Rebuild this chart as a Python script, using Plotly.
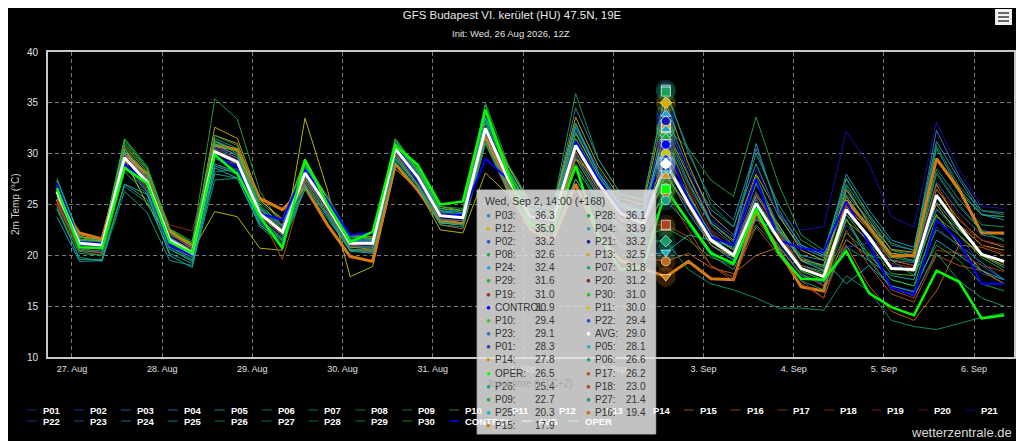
import plotly.graph_objects as go
import pandas as pd

# 6-hourly GFS ensemble, local time (UTC+2)
TIMES = pd.date_range("2026-08-26 20:00", periods=43, freq="6h")
INIT_LOCAL = pd.Timestamp("2026-08-26 14:00")

P01 = [26.0, 20.8, 20.6, 29.0, 26.5, 21.0, 19.8, 29.5, 28.4, 23.6, 22.0, 27.5, 24.3, 21.0, 20.8, 30.0, 27.2, 23.5, 23.4, 31.5, 27.0, 23.2, 23.0, 30.0, 26.5, 23.6, 22.8, 28.3, 24.5, 21.0, 19.6, 24.0, 20.8, 18.2, 17.4, 23.0, 20.5, 17.0, 16.5, 22.8, 20.8, 18.2, 17.6]
P02 = [27.0, 21.6, 21.3, 30.2, 27.8, 22.0, 20.8, 31.0, 29.8, 24.5, 22.8, 28.6, 25.3, 21.6, 21.5, 31.0, 28.2, 24.3, 24.0, 33.0, 28.3, 24.6, 24.2, 32.8, 28.5, 25.2, 24.6, 33.2, 28.0, 23.4, 21.8, 27.5, 23.0, 19.8, 19.0, 26.3, 23.5, 20.5, 20.2, 28.2, 25.0, 22.5, 22.0]
P03 = [26.8, 21.4, 21.1, 30.0, 27.6, 21.8, 20.5, 30.8, 29.5, 24.4, 22.6, 28.4, 25.0, 21.3, 21.4, 31.0, 28.0, 24.2, 24.1, 33.6, 28.8, 25.0, 24.6, 34.5, 29.5, 26.0, 25.5, 36.3, 30.0, 25.5, 23.5, 30.5, 24.5, 21.0, 20.0, 27.5, 24.0, 21.0, 20.5, 32.3, 27.8, 24.4, 24.2]
P04 = [27.3, 21.8, 21.5, 30.4, 28.0, 22.2, 20.6, 31.3, 30.3, 24.8, 23.0, 29.0, 25.6, 21.8, 21.6, 31.3, 28.4, 24.6, 24.2, 33.5, 28.8, 24.8, 24.5, 33.0, 28.0, 25.0, 24.2, 33.9, 28.5, 24.5, 22.8, 29.0, 23.8, 20.8, 19.8, 26.8, 23.0, 20.2, 20.0, 30.5, 26.5, 24.0, 23.8]
P05 = [25.5, 20.5, 20.3, 28.8, 26.2, 20.6, 19.4, 28.8, 28.0, 23.2, 21.5, 27.3, 24.0, 20.6, 20.4, 29.8, 26.9, 23.2, 23.0, 31.8, 26.8, 23.3, 22.8, 29.8, 26.2, 23.5, 22.6, 28.1, 24.2, 21.0, 19.5, 26.0, 22.4, 19.0, 18.4, 23.6, 19.5, 18.0, 17.6, 25.2, 22.6, 20.0, 18.8]
P06 = [24.8, 19.6, 19.6, 27.0, 25.5, 20.2, 19.2, 28.0, 27.6, 23.0, 21.4, 26.5, 23.6, 20.5, 20.6, 29.5, 27.0, 23.2, 23.0, 31.4, 26.5, 22.8, 22.5, 29.5, 25.8, 22.6, 22.0, 26.6, 23.5, 20.4, 19.0, 23.8, 21.0, 18.0, 17.4, 21.5, 20.0, 19.5, 18.0, 22.5, 21.0, 19.3, 17.6]
P07 = [27.6, 21.9, 21.4, 31.5, 28.8, 22.5, 21.0, 31.5, 30.5, 25.0, 22.9, 29.3, 25.5, 21.8, 21.8, 30.9, 28.2, 24.4, 24.0, 33.0, 28.0, 24.3, 24.0, 32.2, 27.8, 24.8, 24.0, 31.8, 27.0, 23.0, 21.0, 27.0, 22.8, 19.5, 18.8, 26.0, 23.5, 20.0, 19.5, 28.5, 25.5, 23.0, 22.8]
P08 = [27.0, 21.4, 21.0, 31.2, 28.5, 22.0, 21.2, 35.4, 33.4, 26.3, 22.8, 29.0, 25.2, 21.5, 21.3, 31.2, 28.5, 24.6, 24.4, 34.4, 28.5, 24.5, 24.1, 33.0, 28.2, 25.0, 24.3, 32.6, 30.5, 27.4, 25.8, 33.6, 27.0, 22.0, 20.5, 27.0, 23.8, 20.5, 20.0, 29.5, 26.2, 24.0, 23.8]
P09 = [25.0, 20.4, 20.0, 28.2, 26.0, 20.8, 19.6, 29.0, 28.2, 23.4, 21.6, 27.6, 24.2, 20.8, 20.8, 30.0, 27.0, 23.4, 23.2, 31.6, 27.0, 23.5, 23.0, 28.5, 25.5, 22.8, 21.8, 22.7, 21.5, 19.8, 19.0, 24.2, 21.5, 18.5, 17.5, 22.2, 20.2, 17.6, 17.0, 21.0, 19.5, 17.2, 16.5]
P10 = [26.5, 21.2, 20.9, 29.9, 27.5, 21.7, 20.5, 30.5, 29.6, 24.3, 22.5, 28.6, 25.0, 21.4, 21.4, 30.6, 27.8, 24.0, 23.8, 32.9, 27.8, 24.0, 23.6, 31.0, 27.3, 24.2, 23.4, 29.4, 25.2, 21.7, 20.2, 25.5, 22.0, 19.0, 18.2, 24.0, 21.2, 18.2, 18.0, 24.5, 22.5, 20.2, 19.2]
P11 = [26.2, 21.6, 21.4, 29.5, 25.0, 21.8, 20.4, 24.3, 23.8, 20.7, 20.5, 33.5, 26.4, 17.9, 18.9, 28.5, 26.5, 22.5, 22.2, 28.1, 26.0, 23.0, 23.0, 29.5, 27.5, 24.5, 23.6, 30.0, 26.0, 22.0, 20.5, 25.8, 23.0, 19.5, 18.5, 24.8, 22.5, 19.5, 19.0, 24.0, 21.0, 18.5, 17.2]
P12 = [26.0, 21.5, 21.2, 30.2, 28.0, 22.4, 21.0, 32.6, 31.5, 25.5, 23.4, 29.5, 25.5, 22.0, 21.6, 31.0, 28.5, 24.8, 24.4, 34.2, 28.8, 25.0, 24.6, 33.6, 28.8, 25.6, 25.0, 35.0, 29.0, 24.0, 22.0, 28.0, 24.0, 20.5, 19.5, 25.8, 22.8, 20.2, 19.8, 27.0, 23.0, 21.0, 20.5]
P13 = [26.6, 21.8, 21.6, 30.5, 27.4, 22.3, 21.2, 31.8, 31.0, 25.4, 23.6, 29.2, 25.6, 22.0, 21.8, 30.2, 28.0, 24.2, 24.0, 32.6, 28.2, 24.4, 24.2, 32.0, 28.0, 24.8, 24.3, 32.5, 27.8, 23.2, 21.5, 27.2, 22.5, 19.6, 19.0, 26.5, 23.2, 20.6, 20.3, 25.0, 22.0, 20.0, 19.0]
P14 = [25.8, 22.0, 21.7, 30.8, 28.2, 22.5, 21.0, 31.2, 30.2, 24.6, 22.4, 28.0, 24.6, 20.8, 20.6, 30.2, 27.4, 23.5, 23.2, 31.8, 27.0, 23.3, 23.0, 30.2, 26.5, 23.4, 22.6, 27.8, 24.8, 21.0, 19.8, 25.0, 22.2, 18.8, 17.8, 23.4, 21.5, 18.8, 18.4, 26.5, 23.5, 21.5, 20.8]
P15 = [25.5, 22.2, 21.6, 29.8, 28.0, 22.4, 20.8, 30.8, 30.4, 25.6, 24.5, 26.7, 23.0, 19.9, 19.4, 29.0, 26.4, 23.3, 23.1, 31.8, 26.5, 22.5, 21.5, 27.0, 22.0, 19.5, 18.7, 17.9, 19.4, 17.7, 17.6, 24.3, 20.5, 16.9, 16.5, 25.4, 22.8, 19.9, 20.0, 29.5, 26.5, 22.2, 22.2]
P16 = [25.0, 21.0, 20.6, 28.8, 26.8, 21.4, 20.0, 29.5, 29.0, 23.8, 22.0, 27.5, 24.4, 20.6, 20.4, 29.8, 27.0, 23.0, 22.6, 31.0, 26.2, 22.6, 22.0, 27.5, 24.0, 20.8, 19.8, 19.4, 20.2, 18.8, 18.2, 20.0, 20.8, 18.2, 17.0, 21.0, 17.0, 14.5, 13.6, 16.5, 21.0, 20.8, 20.0]
P17 = [25.2, 20.5, 20.2, 29.2, 26.6, 21.0, 19.8, 30.0, 29.2, 24.0, 19.6, 27.2, 24.0, 20.5, 20.3, 30.0, 27.4, 23.5, 23.4, 32.2, 27.0, 23.0, 22.5, 29.5, 26.0, 23.0, 22.2, 26.2, 22.5, 19.0, 17.8, 22.8, 20.0, 17.2, 15.8, 22.5, 19.0, 16.2, 15.4, 20.0, 19.0, 18.5, 17.2]
P18 = [25.3, 20.8, 20.2, 28.6, 26.9, 21.5, 20.4, 30.2, 29.6, 24.2, 22.6, 27.8, 24.6, 21.0, 20.8, 30.4, 27.6, 23.8, 23.6, 32.6, 27.2, 23.5, 23.2, 30.2, 26.8, 23.6, 23.0, 23.0, 21.8, 19.0, 17.5, 23.6, 20.5, 17.5, 15.8, 21.6, 19.8, 16.6, 15.8, 20.5, 20.2, 19.0, 18.4]
P19 = [25.0, 20.6, 20.4, 29.3, 27.8, 23.0, 22.4, 30.6, 30.0, 24.2, 22.8, 27.8, 24.8, 21.1, 21.0, 30.6, 27.8, 24.0, 23.8, 32.8, 27.8, 24.2, 23.8, 31.5, 27.6, 24.5, 23.8, 31.0, 26.5, 22.5, 21.0, 26.0, 22.0, 18.8, 18.0, 24.5, 22.0, 19.2, 18.8, 26.0, 23.0, 21.5, 21.0]
P20 = [25.5, 21.0, 20.8, 29.8, 27.4, 22.0, 20.8, 30.4, 29.4, 24.5, 23.0, 28.3, 25.0, 21.3, 21.2, 30.8, 27.9, 24.0, 23.8, 32.4, 27.6, 24.0, 23.6, 31.2, 27.5, 24.3, 23.8, 31.2, 26.8, 22.4, 20.5, 26.3, 22.2, 19.0, 18.0, 25.0, 22.5, 19.6, 19.0, 26.8, 23.8, 21.0, 20.2]
P21 = [26.6, 21.3, 21.0, 29.8, 27.4, 21.8, 20.6, 30.6, 29.5, 24.4, 22.6, 28.4, 25.2, 21.4, 21.4, 30.8, 28.0, 24.2, 24.0, 32.8, 28.2, 24.6, 24.2, 32.4, 28.0, 25.0, 24.5, 33.2, 28.6, 23.8, 22.0, 28.5, 24.0, 22.5, 22.8, 32.2, 29.0, 23.8, 22.8, 33.1, 28.4, 24.8, 24.6]
P22 = [26.4, 21.0, 20.8, 29.5, 27.0, 21.3, 20.0, 30.0, 29.0, 23.9, 22.2, 28.2, 24.8, 21.1, 21.0, 30.4, 27.5, 23.8, 23.6, 32.2, 27.3, 23.8, 23.4, 30.8, 27.2, 24.2, 23.3, 29.4, 25.4, 21.8, 20.2, 25.6, 21.4, 18.0, 17.2, 20.8, 21.2, 19.0, 18.5, 24.6, 22.0, 19.0, 17.6]
P23 = [26.0, 20.6, 20.4, 29.2, 26.3, 20.8, 19.8, 29.0, 28.0, 23.4, 21.8, 27.8, 24.2, 20.9, 20.8, 30.2, 27.3, 23.6, 23.4, 32.0, 27.3, 23.6, 23.2, 30.6, 26.8, 24.0, 23.2, 29.1, 25.8, 22.2, 20.6, 26.2, 22.6, 19.4, 18.6, 24.0, 22.0, 19.5, 19.3, 27.2, 24.2, 22.0, 21.6]
P24 = [26.8, 21.4, 21.0, 30.2, 27.6, 21.8, 20.2, 30.9, 29.8, 24.6, 22.9, 28.8, 25.4, 21.5, 21.5, 31.0, 28.3, 24.4, 24.2, 33.4, 28.4, 24.6, 24.2, 32.6, 28.2, 25.0, 24.4, 32.4, 27.2, 23.2, 21.3, 31.0, 24.2, 21.0, 20.0, 28.0, 24.5, 21.5, 20.8, 31.2, 27.5, 24.0, 23.5]
P25 = [23.8, 19.4, 19.5, 27.0, 26.0, 20.0, 18.8, 28.6, 27.6, 23.0, 21.2, 27.0, 23.8, 20.4, 20.2, 29.6, 26.8, 23.2, 23.0, 31.2, 26.4, 22.6, 22.0, 27.5, 24.0, 21.0, 20.0, 20.3, 22.0, 21.5, 20.8, 23.5, 22.5, 20.0, 19.5, 17.2, 19.0, 17.0, 16.4, 21.5, 20.0, 18.5, 17.6]
P26 = [24.5, 19.8, 19.4, 26.3, 24.2, 19.5, 19.0, 27.4, 27.6, 22.8, 21.0, 26.5, 24.0, 20.5, 20.4, 29.2, 26.6, 23.0, 22.8, 31.0, 26.5, 23.0, 22.6, 29.0, 25.5, 22.6, 21.8, 25.4, 23.0, 20.0, 18.6, 23.0, 20.6, 17.5, 16.6, 20.8, 19.5, 16.8, 16.0, 20.2, 17.5, 15.8, 15.0]
P27 = [24.6, 20.2, 20.0, 26.8, 25.2, 20.6, 19.5, 28.2, 28.5, 23.6, 21.6, 26.8, 24.0, 20.6, 20.5, 29.4, 26.8, 23.3, 23.0, 31.2, 26.8, 23.2, 22.8, 28.8, 25.0, 22.4, 21.4, 21.4, 18.6, 17.2, 16.6, 15.8, 14.8, 14.8, 14.6, 18.0, 16.5, 13.6, 13.0, 12.7, 13.3, 13.9, 14.3]
P28 = [27.2, 21.6, 21.2, 31.0, 28.4, 22.6, 21.4, 31.8, 30.8, 25.2, 23.4, 29.2, 25.8, 21.9, 21.8, 31.5, 28.6, 24.8, 24.6, 35.0, 29.0, 25.2, 24.8, 35.9, 29.5, 26.0, 25.4, 36.1, 30.4, 25.0, 22.8, 30.0, 25.0, 21.5, 20.2, 27.6, 24.0, 21.2, 20.5, 30.8, 26.8, 24.4, 24.0]
P29 = [26.9, 21.5, 21.1, 30.6, 28.0, 22.2, 20.9, 31.2, 30.0, 24.8, 22.6, 28.8, 25.2, 21.6, 21.6, 30.9, 28.1, 24.3, 24.0, 33.2, 28.2, 24.5, 24.0, 32.0, 27.8, 24.8, 24.1, 31.6, 26.2, 22.0, 20.6, 27.8, 22.6, 19.8, 18.8, 25.8, 22.6, 19.8, 19.4, 28.0, 24.8, 22.4, 21.4]
P30 = [27.4, 21.8, 21.3, 31.4, 28.6, 22.6, 21.2, 31.0, 30.2, 24.6, 22.4, 28.0, 25.0, 21.2, 21.2, 31.4, 28.4, 24.6, 24.4, 34.8, 28.4, 24.3, 23.8, 31.5, 27.6, 24.6, 23.9, 31.0, 25.5, 21.3, 19.8, 25.2, 21.8, 18.4, 17.6, 23.6, 20.0, 17.6, 17.0, 23.8, 22.0, 19.8, 18.5]
CONTROL = [27.1, 21.3, 21.2, 29.0, 27.0, 21.0, 20.0, 29.7, 28.7, 24.1, 23.5, 28.4, 25.4, 22.0, 22.2, 30.4, 27.4, 24.0, 24.0, 29.5, 27.5, 24.0, 23.5, 31.2, 27.5, 24.5, 23.8, 30.9, 25.5, 21.8, 21.0, 27.5, 21.5, 20.7, 20.4, 25.3, 21.2, 16.8, 16.1, 23.5, 21.4, 17.2, 17.2]
AVG = [26.3, 21.2, 21.0, 29.6, 27.2, 21.5, 20.2, 30.2, 29.2, 24.1, 22.3, 28.1, 24.8, 21.2, 21.2, 30.5, 27.7, 23.9, 23.7, 32.5, 27.5, 23.8, 23.5, 30.8, 27.1, 24.1, 23.1, 29.0, 25.1, 21.5, 20.0, 25.1, 21.6, 18.7, 17.9, 24.5, 21.8, 18.7, 18.6, 25.9, 22.9, 20.1, 19.4]
OPER = [26.6, 20.8, 20.7, 28.6, 27.1, 21.3, 20.2, 29.9, 28.0, 23.8, 20.7, 29.4, 25.0, 21.3, 22.3, 30.8, 28.9, 25.0, 25.3, 34.3, 28.0, 23.0, 22.5, 28.8, 22.0, 18.6, 18.8, 26.5, 23.3, 20.2, 19.2, 24.6, 20.2, 17.7, 17.6, 20.4, 16.3, 14.9, 14.1, 18.5, 17.4, 13.8, 14.1]

MEMBERS = [P01, P02, P03, P04, P05, P06, P07, P08, P09, P10,
           P11, P12, P13, P14, P15, P16, P17, P18, P19, P20,
           P21, P22, P23, P24, P25, P26, P27, P28, P29, P30]
MEMBER_NAMES = ["P%02d" % (i + 1) for i in range(30)]
MEMBER_COLORS = ["#2a3fa8", "#2255cc", "#3a82c4", "#22a2cc", "#1cb4bc",
                 "#16a68c", "#14a474", "#22a844", "#1eb03c", "#36c426",
                 "#c8c400", "#d4b000", "#d8a414", "#d49222", "#d87a12",
                 "#c86a14", "#b85614", "#b0421e", "#9a2a22", "#8a1c1c",
                 "#1414b0", "#1e50cc", "#2c70c0", "#1ca4d4", "#14b4c4",
                 "#14a484", "#149c64", "#14a454", "#1cac34", "#2cbc1c"]

ALL_NAMES = MEMBER_NAMES + ["CONTROL", "AVG", "OPER"]
ALL_VALUES = MEMBERS + [CONTROL, AVG, OPER]
ALL_COLORS = MEMBER_COLORS + ["#0000ff", "#ffffff", "#00ff00"]

HOVER = 27          # point under the cursor
HOVERED = "P15"     # series under the cursor

FONT = "Liberation Sans, Arial, sans-serif"

# page pixels of the plot area; the page body adds an 8px margin
PAD = 8
L, R, T, B = 48, 1016, 52, 357
W, H = 1024 - PAD, 441 - PAD


def X(px):
    return (px - L) / (R - L)


def Y(py):
    return (B - py) / (B - T)


fig = go.Figure()

for name, vals, col in zip(ALL_NAMES, ALL_VALUES, ALL_COLORS):
    if name == "AVG":
        width = 3
    elif name == "OPER":
        width = 2.5
    elif name == "CONTROL":
        width = 2
    elif name == HOVERED:
        width = 3
    else:
        width = 1
    fig.add_trace(go.Scatter(x=TIMES, y=vals, mode="lines", name=name,
                             line=dict(color=col, width=width),
                             opacity=1 if width > 1 else 0.9,
                             hoverinfo="skip", showlegend=False))

# hover markers with halo
symbols = ["circle", "diamond", "square", "triangle-up", "triangle-down"]
hx = [TIMES[HOVER]] * len(ALL_VALUES)
hy = [v[HOVER] for v in ALL_VALUES]
hs = [symbols[i % 5] for i in range(len(ALL_VALUES))]
fig.add_trace(go.Scatter(x=hx, y=hy, mode="markers", showlegend=False, hoverinfo="skip",
                         marker=dict(size=20, color=ALL_COLORS, opacity=0.25, symbol="circle")))
fig.add_trace(go.Scatter(x=hx, y=hy, mode="markers", showlegend=False, hoverinfo="skip",
                         marker=dict(size=9, color=ALL_COLORS, symbol=hs,
                                     line=dict(width=1, color="rgba(255,255,255,0.6)"))))

shapes = []
anns = []

# legend, drawn by hand in two rows
row1 = ALL_NAMES[:21]
row2 = ALL_NAMES[21:]
for row, ypix in ((row1, 410), (row2, 421)):
    x0 = 27
    for name in row:
        col = ALL_COLORS[ALL_NAMES.index(name)]
        op = 0.45 if name.startswith("P") else 1.0
        shapes.append(dict(type="line", xref="paper", yref="paper",
                           x0=X(x0), x1=X(x0 + 10), y0=Y(ypix), y1=Y(ypix),
                           line=dict(color=col, width=1.5), opacity=op))
        anns.append(dict(x=X(x0 + 14), y=Y(ypix), text="<b>%s</b>" % name,
                         font=dict(family=FONT, size=9.5, color="#ffffff")))
        x0 += 73 if name == "CONTROL" else 47

# tooltip box
shapes.append(dict(type="rect", xref="paper", yref="paper", layer="above",
                   x0=X(478), x1=X(657), y0=Y(434), y1=Y(190),
                   fillcolor="rgba(226,226,226,0.86)",
                   line=dict(color="rgba(190,190,190,0.9)", width=1)))

# menu button
shapes.append(dict(type="rect", xref="paper", yref="paper", layer="above",
                   x0=X(997), x1=X(1014), y0=Y(25), y1=Y(9),
                   fillcolor="#f2f2f2", line=dict(width=0)))
for yy in (13, 17, 21):
    shapes.append(dict(type="line", xref="paper", yref="paper", layer="above",
                       x0=X(1000), x1=X(1011), y0=Y(yy), y1=Y(yy),
                       line=dict(color="#666666", width=2)))

# tooltip content
t = TIMES[HOVER]
lead = int((t - INIT_LOCAL).total_seconds() // 3600)
header = "%s, %s %d, %s (+%d)" % (t.strftime("%a"), t.strftime("%b"), t.day, t.strftime("%H:%M"), lead)
anns.append(dict(x=X(484), y=Y(201), text=header,
                 font=dict(family=FONT, size=10.5, color="#333333")))
order = sorted(range(len(ALL_VALUES)), key=lambda j: -ALL_VALUES[j][HOVER])
for pos, j in enumerate(order):
    r, c = divmod(pos, 2)
    ypix = 215 + 13.17 * r
    dx = 0 if c == 0 else 100
    vx = 558 if c == 0 else 649
    anns.append(dict(x=X(485 + dx), y=Y(ypix), text="●",
                     font=dict(family=FONT, size=8, color=ALL_COLORS[j])))
    anns.append(dict(x=X(494 + dx), y=Y(ypix), text=ALL_NAMES[j] + ":",
                     font=dict(family=FONT, size=10, color="#333333")))
    anns.append(dict(x=X(vx), y=Y(ypix), text="%.1f" % ALL_VALUES[j][HOVER], xanchor="right",
                     font=dict(family=FONT, size=10, color="#333333")))

# subtitle, axis titles, credit
anns.append(dict(x=X(512), y=Y(33), text="Init: Wed, 26 Aug 2026, 12Z", xanchor="center",
                 font=dict(family=FONT, size=9.5, color="#e0e0e0")))
anns.append(dict(x=X(15), y=Y(204), text="2m Temp (°C)", textangle=-90, xanchor="center",
                 font=dict(family=FONT, size=10, color="#d0d0d0")))
anns.append(dict(x=X(532), y=Y(383), text="local time (UTC+2)", xanchor="center",
                 font=dict(family=FONT, size=10, color="#a8a8a8")))
anns.append(dict(x=X(1016), y=Y(432), text="wetterzentrale.de", xanchor="right",
                 font=dict(family=FONT, size=13, color="#d8d8d8")))

for a in anns:
    a.setdefault("xref", "paper")
    a.setdefault("yref", "paper")
    a.setdefault("xanchor", "left")
    a.setdefault("yanchor", "middle")
    a.setdefault("showarrow", False)

fig.update_layout(
    width=W, height=H,
    margin=dict(l=L - PAD, r=W - (R - PAD), t=T - PAD, b=H - (B - PAD)),
    paper_bgcolor="#000000", plot_bgcolor="#000000",
    title=dict(text="GFS Budapest VI. kerület (HU) 47.5N, 19E",
               x=(512 - PAD) / W, xref="container",
               y=1 - (15 - PAD) / H, yref="container", xanchor="center", yanchor="middle",
               font=dict(family=FONT, size=11.5, color="#e8e8e8")),
    showlegend=False,
    shapes=shapes,
    annotations=anns,
)
fig.update_xaxes(type="date", range=["2026-08-26 17:38", "2026-09-06 10:37"],
                 dtick=86400000, tick0="2026-08-27", tickformat="%-d. %b",
                 showgrid=True, gridcolor="#7a7a7a", griddash="4px,3px", gridwidth=1,
                 showline=True, mirror=True, linecolor="#c8c8c8", linewidth=2,
                 ticks="", ticklabelstandoff=2, zeroline=False,
                 tickfont=dict(family=FONT, size=9, color="#e0e0e0"))
fig.update_yaxes(range=[10, 40], dtick=5, tick0=10,
                 showgrid=True, gridcolor="#7a7a7a", griddash="4px,3px", gridwidth=1,
                 showline=True, mirror=True, linecolor="#c8c8c8", linewidth=2,
                 ticks="", ticklabelstandoff=6, zeroline=False,
                 tickfont=dict(family=FONT, size=10, color="#e0e0e0"))

fig.write_html("out.html", config={"displayModeBar": False})
